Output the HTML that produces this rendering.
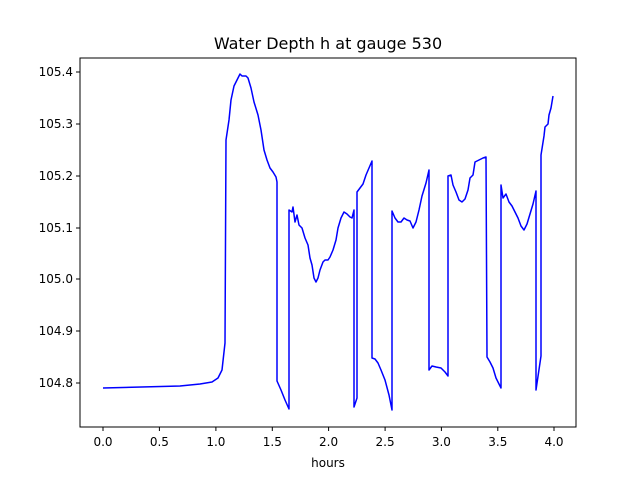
<!DOCTYPE html>
<html><head><style>body{margin:0;background:#fff}svg{display:block}</style></head><body>
<svg width="640" height="480" xmlns="http://www.w3.org/2000/svg" font-family="'DejaVu Sans', 'Liberation Sans', sans-serif">
<rect width="640" height="480" fill="#fff"/>
<text x="328" y="49" font-size="16" text-anchor="middle">Water Depth h at gauge 530</text>
<polyline fill="none" stroke="#0000ff" stroke-width="1.5" stroke-linejoin="round" points="103,388 180,386 200,384 212,382 218,378 222,370 225,343 226,140 229,120 231,100 234,86 238,78 240,74 242,76 246,76 248,78 251,88 254,102 258,115 261,130 264,150 267,160 270,168 273,172 276,177 277,182 277,381 281,390 285,400 289,409 289,210 292,212 293,207 295,222 297,215 299,225 302,228 305,238 308,245 310,258 312,265 314,278 316,282 318,278 320,270 323,262 325,260 328,260 330,257 333,250 336,240 338,228 341,218 344,212 347,214 350,217 352,218 354,210 354,407 357,398 357,192 360,188 363,184 366,175 369,168 372,161 372,358 375,359 378,363 381,370 385,380 389,395 392,410 392,211 395,218 398,222 401,222 404,218 407,220 410,221 413,228 416,222 419,210 422,196 426,183 429,170 429,370 432,366 436,367 441,368 445,372 448,376 448,176 451,175 453,185 456,192 459,200 462,202 465,199 468,190 470,178 473,175 475,162 479,160 483,158 486,157 487,357 490,362 493,368 496,378 499,384 501,388 501,185 503,198 506,194 509,202 512,206 515,212 518,218 521,226 524,230 527,224 530,214 533,204 536,191 536,390 541,356 541,155 544,136 545,127 548,124 549,115 551,108 553,96"/>
<rect x="80" y="58" width="496" height="369" fill="none" stroke="#000" stroke-width="1"/>
<g stroke="#000" stroke-width="1">
<line x1="103" y1="427" x2="103" y2="431"/><line x1="159.4" y1="427" x2="159.4" y2="431"/><line x1="215.9" y1="427" x2="215.9" y2="431"/><line x1="272.3" y1="427" x2="272.3" y2="431"/><line x1="328.6" y1="427" x2="328.6" y2="431"/><line x1="385.1" y1="427" x2="385.1" y2="431"/><line x1="441.4" y1="427" x2="441.4" y2="431"/><line x1="497.8" y1="427" x2="497.8" y2="431"/><line x1="554" y1="427" x2="554" y2="431"/>
<line x1="76" y1="383" x2="80" y2="383"/><line x1="76" y1="331" x2="80" y2="331"/><line x1="76" y1="279" x2="80" y2="279"/><line x1="76" y1="228" x2="80" y2="228"/><line x1="76" y1="176" x2="80" y2="176"/><line x1="76" y1="124" x2="80" y2="124"/><line x1="76" y1="72" x2="80" y2="72"/>
</g>
<g font-size="12" text-anchor="middle">
<text x="103" y="446">0.0</text><text x="159.4" y="446">0.5</text><text x="215.9" y="446">1.0</text><text x="272.3" y="446">1.5</text><text x="328.6" y="446">2.0</text><text x="385.1" y="446">2.5</text><text x="441.4" y="446">3.0</text><text x="497.8" y="446">3.5</text><text x="554" y="446">4.0</text>
<text x="328" y="467">hours</text>
</g>
<g font-size="12" text-anchor="end">
<text x="73" y="387">104.8</text><text x="73" y="335">104.9</text><text x="73" y="283">105.0</text><text x="73" y="232">105.1</text><text x="73" y="180">105.2</text><text x="73" y="128">105.3</text><text x="73" y="76">105.4</text>
</g>
</svg>
</body></html>
